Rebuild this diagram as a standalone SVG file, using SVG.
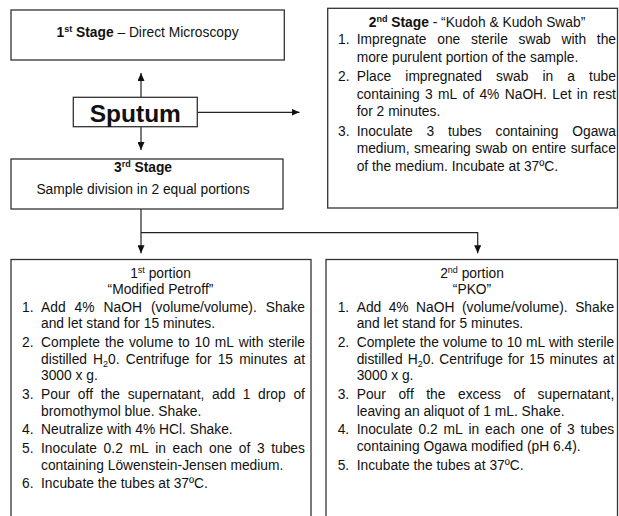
<svg xmlns="http://www.w3.org/2000/svg" width="619" height="516" viewBox="0 0 619 516">
<style>
text{font-family:"Liberation Sans",Arial,sans-serif;font-size:13.8px;fill:#111;font-kerning:none}
.box{fill:#fff;stroke:#333;stroke-width:1.3}
.b{font-weight:bold}
.c{text-anchor:middle}
.sup{font-size:9px}
.sub{font-size:9px}
.big{font-size:24.5px;font-weight:bold}
.con{fill:none;stroke:#222;stroke-width:1.2}
</style>
<defs>
<marker id="ah" markerUnits="userSpaceOnUse" markerWidth="9" markerHeight="7" refX="8" refY="3.5" orient="auto">
<path d="M0,0 L8,3.5 L0,7 z" fill="#111"/>
</marker>
</defs>
<rect width="619" height="516" fill="#fff"/>

<g id="connectors">
<line class="con" x1="141" y1="97.3" x2="141" y2="73" marker-end="url(#ah)"/>
<line class="con" x1="197.3" y1="112.3" x2="299.5" y2="112.3" marker-end="url(#ah)"/>
<line class="con" x1="141" y1="126.7" x2="141" y2="150" marker-end="url(#ah)"/>
<line class="con" x1="141" y1="209" x2="141" y2="253.3" marker-end="url(#ah)"/>
<path class="con" d="M141 232.7 H477.7 V253.3" marker-end="url(#ah)"/>
</g>

<g id="stage1">
<rect class="box" x="11" y="10" width="273.3" height="50"/>
<text class="c" x="147.5" y="37.3"><tspan class="b">1</tspan><tspan class="b sup" dy="-5">st</tspan><tspan class="b" dy="5"> Stage</tspan> – Direct Microscopy</text>
</g>

<g id="sputum">
<rect class="box" x="73.3" y="97.3" width="124" height="29.4"/>
<text class="big c" x="135.3" y="122">Sputum</text>
</g>

<g id="stage2">
<rect class="box" x="327.7" y="8.3" width="289.8" height="199.7"/>
<text class="c" x="477" y="27.3"><tspan class="b">2</tspan><tspan class="b sup" dy="-5">nd</tspan><tspan class="b" dy="5"> Stage</tspan> - “Kudoh &amp; Kudoh Swab”</text>
<text x="338" y="44.3">1.</text>
<text x="356.7" y="44.3" style="word-spacing:6.92px">Impregnate one sterile swab with the</text>
<text x="356.7" y="61.8">more purulent portion of the sample.</text>
<text x="338" y="81.3">2.</text>
<text x="356.7" y="81.3" style="word-spacing:10.28px">Place impregnated swab in a tube</text>
<text x="356.7" y="98.8" style="word-spacing:1.54px">containing 3 mL of 4% NaOH. Let in rest</text>
<text x="356.7" y="116.3">for 2 minutes.</text>
<text x="338" y="135.8">3.</text>
<text x="356.7" y="135.8" style="word-spacing:9.98px">Inoculate 3 tubes containing Ogawa</text>
<text x="356.7" y="153.3" style="word-spacing:0.62px">medium, smearing swab on entire surface</text>
<text x="356.7" y="170.8">of the medium. Incubate at 37ºC.</text>
</g>

<g id="stage3">
<rect class="box" x="11" y="159" width="272" height="50"/>
<text class="c" x="143" y="172.3"><tspan class="b">3</tspan><tspan class="b sup" dy="-5">rd</tspan><tspan class="b" dy="5"> Stage</tspan></text>
<text class="c" x="143" y="194">Sample division in 2 equal portions</text>
</g>

<g id="portion1">
<rect class="box" x="11" y="259.5" width="300" height="280"/>
<text class="c" x="160.5" y="277.5">1<tspan class="sup" dy="-5">st</tspan><tspan dy="5"> portion</tspan></text>
<text class="c" x="160.5" y="294">“Modified Petroff”</text>
<text x="22" y="311.5">1.</text>
<text x="41" y="311.5" style="word-spacing:5.22px">Add 4% NaOH (volume/volume). Shake</text>
<text x="41" y="328.3">and let stand for 15 minutes.</text>
<text x="22" y="346.8">2.</text>
<text x="41" y="346.8" style="word-spacing:1.01px">Complete the volume to 10 mL with sterile</text>
<text x="41" y="363.6" style="word-spacing:2.27px">distilled H<tspan class="sub" dy="3">2</tspan><tspan dy="-3">0. Centrifuge for 15 minutes at</tspan></text>
<text x="41" y="380.4">3000 x g.</text>
<text x="22" y="398.9">3.</text>
<text x="41" y="398.9" style="word-spacing:3.84px">Pour off the supernatant, add 1 drop of</text>
<text x="41" y="415.7">bromothymol blue. Shake.</text>
<text x="22" y="434.2">4.</text>
<text x="41" y="434.2">Neutralize with 4% HCl. Shake.</text>
<text x="22" y="452.7">5.</text>
<text x="41" y="452.7" style="word-spacing:2.79px">Inoculate 0.2 mL in each one of 3 tubes</text>
<text x="41" y="469.5">containing Löwenstein-Jensen medium.</text>
<text x="22" y="488">6.</text>
<text x="41" y="488">Incubate the tubes at 37ºC.</text>
</g>

<g id="portion2">
<rect class="box" x="326" y="259.5" width="291.5" height="280"/>
<text class="c" x="472" y="277.5">2<tspan class="sup" dy="-5">nd</tspan><tspan dy="5"> portion</tspan></text>
<text class="c" x="472" y="294">“PKO”</text>
<text x="337.7" y="311.5">1.</text>
<text x="356.7" y="311.5" style="word-spacing:3.63px">Add 4% NaOH (volume/volume). Shake</text>
<text x="356.7" y="328.3">and let stand for 5 minutes.</text>
<text x="337.7" y="346.8">2.</text>
<text x="356.7" y="346.8" style="word-spacing:0.1px">Complete the volume to 10 mL with sterile</text>
<text x="356.7" y="363.6" style="word-spacing:1.2px">distilled H<tspan class="sub" dy="3">2</tspan><tspan dy="-3">0. Centrifuge for 15 minutes at</tspan></text>
<text x="356.7" y="380.4">3000 x g.</text>
<text x="337.7" y="398.9">3.</text>
<text x="356.7" y="398.9" style="word-spacing:8.72px">Pour off the excess of supernatant,</text>
<text x="356.7" y="415.7">leaving an aliquot of 1 mL. Shake.</text>
<text x="337.7" y="434.2">4.</text>
<text x="356.7" y="434.2" style="word-spacing:1.99px">Inoculate 0.2 mL in each one of 3 tubes</text>
<text x="356.7" y="451">containing Ogawa modified (pH 6.4).</text>
<text x="337.7" y="469.5">5.</text>
<text x="356.7" y="469.5">Incubate the tubes at 37ºC.</text>
</g>
</svg>
